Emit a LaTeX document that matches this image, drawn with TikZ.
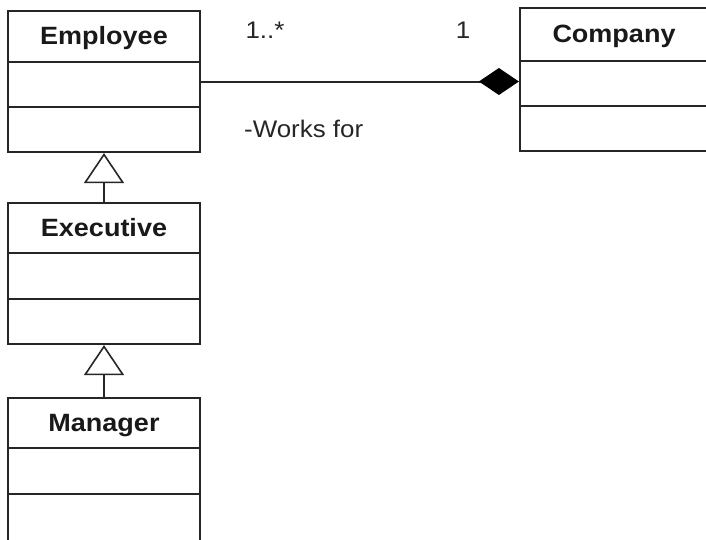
\documentclass[tikz,border=0pt]{standalone}
\usepackage{fontspec}
\setmainfont{Liberation Sans}[FakeStretch=1.08]
\usetikzlibrary{arrows.meta}
\begin{document}
\begin{tikzpicture}[x=1pt,y=-1pt,
  classbox/.style={draw=black!85, line width=2.2pt, minimum width=192pt, inner sep=0pt, fill=white},
  divider/.style={draw=black!85, line width=2.2pt},
  title/.style={font=\fontsize{25}{28}\selectfont\bfseries, inner sep=0pt, anchor=base, text=black!90},
  lbl/.style={font=\fontsize{24}{28}\selectfont, inner sep=0pt, anchor=base, text=black!85},
  conn/.style={draw=black!85, line width=2pt}
]
\useasboundingbox[fill=white] (0,0) rectangle (706,539);
% Employee
\node[classbox, minimum height=141pt] (emp) at (104,81.5) {};
\draw[divider] (8,62) -- (200,62) (8,107) -- (200,107);
\node[title] (empt) at (104,44) {Employee};
% Executive
\node[classbox, minimum height=141pt] (exe) at (104,273.5) {};
\draw[divider] (8,253) -- (200,253) (8,299) -- (200,299);
\node[title] (exet) at (104,236) {Executive};
% Manager
\node[classbox, minimum height=147pt] (man) at (104,471.5) {};
\draw[divider] (8,448) -- (200,448) (8,494) -- (200,494);
\node[title] (mant) at (104,431) {Manager};
% Company
\node[classbox, minimum height=143pt] (comp) at (616,79.5) {};
\draw[divider] (520,61) -- (712,61) (520,106) -- (712,106);
\node[title] (compt) at (614,42) {Company};
% Generalizations
\draw[conn, -{Triangle[open, length=30pt, width=40pt, fill=white, line width=1.6pt]}] (exe.north) -- (emp.south);
\draw[conn, -{Triangle[open, length=30pt, width=40pt, fill=white, line width=1.6pt]}] (man.north) -- (exe.south);
% Composition
\coordinate (cend) at (emp.east -| comp.west);
\draw[conn, -{Diamond[length=40pt, width=27pt, fill=black, color=black]}] (emp.east) -- (cend);
% Labels
\node[lbl] (m1) at (265,38) {1..*};
\node[lbl] (m2) at (463,38) {1};
\node[lbl, anchor=base west] (role) at (244,137) {-Works for};
\end{tikzpicture}
\end{document}
